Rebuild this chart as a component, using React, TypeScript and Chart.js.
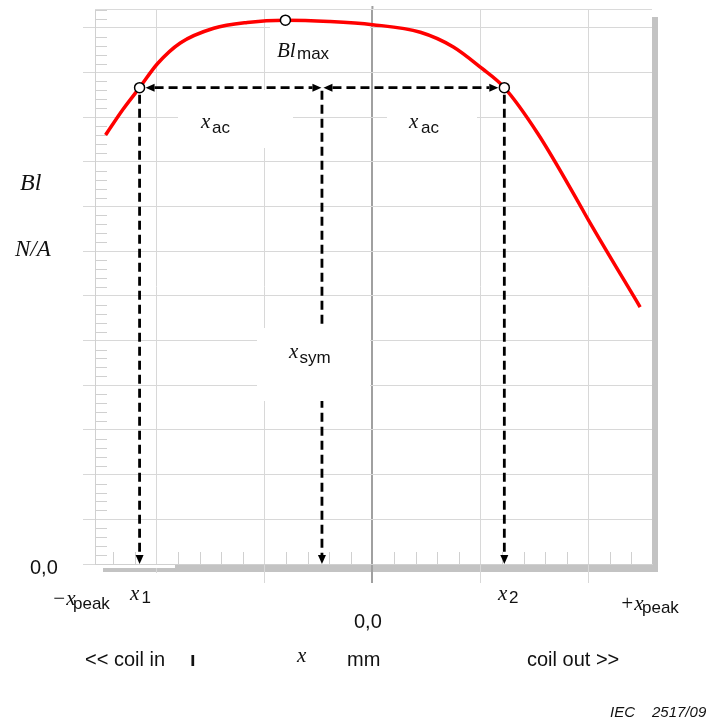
import React, { useEffect, useRef } from "react";
import { Chart, registerables } from "chart.js";

Chart.register(...registerables);

// ---- data (x in mm-units, y in Bl-units) ----
const curveX = [-2.472, -2.315, -2.157, -1.99, -1.78, -1.47, -1.16, -0.806, -0.4, 0, 0.444, 0.75, 1.009, 1.222, 1.53, 1.898, 2.0, 2.48];
const curveY = [9.6, 10.16, 10.66, 11.2, 11.66, 11.99, 12.12, 12.17, 12.14, 12.07, 11.9, 11.57, 11.1, 10.66, 9.64, 8.14, 7.7, 5.75];
// marker points: x1, Bl_max, x2
const markerX = [-2.157, -0.806, 1.222];
const markerY = [10.66, 12.17, 10.66];
// axis ranges
const xRange = [-2.57, 2.59];
const yRange = [0, 12.42];

const SERIF = '"Liberation Serif", "DejaVu Serif", serif';
const SANS = '"Liberation Sans", Arial, sans-serif';
const fI = (s: number) => `italic ${s}px ${SERIF}`;
const fS = (s: number) => `${s}px ${SANS}`;

const decor = {
  id: "decor",
  beforeDraw(chart: any) {
    const ctx = chart.ctx;
    const a = chart.chartArea;
    ctx.save();
    ctx.fillStyle = "#c3c3c3";
    ctx.fillRect(a.right, a.top + 8, 6, a.bottom - a.top);
    ctx.fillRect(a.left + 8, a.bottom + 1, a.right - a.left - 2, 7);
    ctx.restore();
  },
  beforeDatasetsDraw(chart: any) {
    const ctx = chart.ctx;
    const a = chart.chartArea;
    const xs = chart.scales.x;
    const ys = chart.scales.y;
    const px = (v: number) => xs.getPixelForValue(v);
    const py = (v: number) => ys.getPixelForValue(v);
    ctx.save();
    // top border
    ctx.strokeStyle = "#dadada";
    ctx.lineWidth = 1;
    ctx.beginPath();
    ctx.moveTo(a.left, Math.round(a.top) + 0.5);
    ctx.lineTo(a.right, Math.round(a.top) + 0.5);
    ctx.stroke();
    // zero line extends slightly above the plot
    ctx.strokeStyle = "#a0a0a0";
    ctx.lineWidth = 2;
    ctx.beginPath();
    ctx.moveTo(px(0), a.top - 3);
    ctx.lineTo(px(0), a.top);
    ctx.stroke();
    // minor ticks
    ctx.strokeStyle = "#d0d0d0";
    ctx.lineWidth = 1;
    ctx.beginPath();
    for (let i = Math.ceil(yRange[0] * 5); i <= Math.floor(yRange[1] * 5); i++) {
      if (i % 5 === 0) continue;
      const y = Math.round(py(i / 5)) + 0.5;
      ctx.moveTo(a.left, y);
      ctx.lineTo(a.left + 12, y);
    }
    for (let i = Math.ceil(xRange[0] * 5); i <= Math.floor(xRange[1] * 5); i++) {
      if (i % 5 === 0) continue;
      const x = Math.round(px(i / 5)) + 0.5;
      ctx.moveTo(x, a.bottom);
      ctx.lineTo(x, a.bottom - 12);
    }
    ctx.stroke();

    // dashed construction lines
    const x1p = px(markerX[0]);
    const x2p = px(markerX[2]);
    const xsp = px((markerX[0] + markerX[2]) / 2);
    const yh = py(markerY[0]);
    const yb = py(0);
    const AL = 9, HW = 4;
    const line = (ax: number, ay: number, bx: number, by: number) => {
      ctx.beginPath();
      ctx.moveTo(ax, ay);
      ctx.lineTo(bx, by);
      ctx.stroke();
    };
    const arrow = (tx: number, ty: number, dx: number, dy: number) => {
      const bx = tx - AL * dx, by = ty - AL * dy;
      ctx.beginPath();
      ctx.moveTo(tx, ty);
      ctx.lineTo(bx - dy * HW, by + dx * HW);
      ctx.lineTo(bx + dy * HW, by - dx * HW);
      ctx.closePath();
      ctx.fill();
    };
    ctx.strokeStyle = "#000";
    ctx.fillStyle = "#000";
    ctx.lineWidth = 2.8;
    ctx.setLineDash([9, 5]);
    line(x1p + 6 + AL, yh, xsp - 0.5 - AL, yh);
    line(xsp + 1.5 + AL, yh, x2p - 6 - AL, yh);
    line(x1p, yh + 7, x1p, yb - AL);
    line(x2p, yh + 7, x2p, yb - AL);
    line(xsp, yh + 3, xsp, yb - AL);
    ctx.setLineDash([]);
    arrow(x1p + 6, yh, -1, 0);
    arrow(xsp - 0.5, yh, 1, 0);
    arrow(xsp + 1.5, yh, -1, 0);
    arrow(x2p - 6, yh, 1, 0);
    arrow(x1p, yb, 0, 1);
    arrow(x2p, yb, 0, 1);
    arrow(xsp, yb, 0, 1);

    // white label backgrounds
    ctx.fillStyle = "#fff";
    ctx.fillRect(270, 26, 100, 45);
    ctx.fillRect(178, 90, 115, 58);
    ctx.fillRect(387, 90, 90, 62);
    ctx.fillRect(257, 328, 113, 73);
    ctx.fillRect(103, 565, 72, 3);
    ctx.fillRect(118, 573, 58, 40);
    ctx.restore();
  },
  afterDatasetsDraw(chart: any) {
    const ctx = chart.ctx;
    ctx.save();
    ctx.fillStyle = "#111";
    ctx.textBaseline = "alphabetic";
    ctx.textAlign = "left";
    const t = (s: string, font: string, x: number, y: number) => {
      ctx.font = font;
      ctx.fillText(s, x, y);
    };
    // Bl_max
    t("Bl", fI(21), 277, 57);
    t("max", fS(17), 297, 59);
    // x_ac left / right
    t("x", fI(21), 201, 128);
    t("ac", fS(17), 212, 133);
    t("x", fI(21), 409, 128);
    t("ac", fS(17), 421, 133);
    // x_sym
    t("x", fI(21), 289, 358);
    t("sym", fS(17), 299.5, 363);
    // y-axis title
    t("Bl", fI(24), 20, 190);
    t("N/A", fI(23), 15, 256);
    t("0,0", fS(20), 30, 574);
    // x-axis labels
    t("\u2212x", fI(21), 52, 605);
    t("peak", fS(17), 73, 609);
    t("x", fI(21), 130, 600);
    t("1", fS(17), 141.5, 603);
    t("0,0", fS(20), 354, 628);
    t("x", fI(21), 498, 600);
    t("2", fS(17), 509, 603);
    t("+x", fI(21), 620, 610);
    t("peak", fS(17), 642, 613);
    t("<< coil in", fS(20), 85, 666);
    t("\u0131", `bold 20px ${SANS}`, 190, 666);
    t("x", fI(21), 297, 662);
    t("mm", fS(20), 347, 666);
    t("coil out >>", fS(20), 527, 666);
    ctx.font = `italic 15px ${SANS}`;
    ctx.fillText("IEC", 610, 717);
    ctx.fillText("2517/09", 652, 717);
    ctx.restore();
  },
};

export default function App() {
  const ref = useRef<HTMLCanvasElement>(null);
  useEffect(() => {
    const canvas = ref.current!;
    const gridX = "#d8d8d8";
    const chart = new Chart(canvas, {
      type: "line",
      data: {
        datasets: [
          {
            data: curveX.map((x, i) => ({ x, y: curveY[i] })),
            borderColor: "#ff0000",
            borderWidth: 3.5,
            pointRadius: 0,
            cubicInterpolationMode: "monotone",
            fill: false,
            clip: false as any,
            order: 2,
          },
          {
            data: markerX.map((x, i) => ({ x, y: markerY[i] })),
            showLine: false,
            pointRadius: 5,
            pointBackgroundColor: "#ffffff",
            pointBorderColor: "#000000",
            pointBorderWidth: 1.5,
            clip: false as any,
            order: 1,
          },
        ],
      },
      options: {
        responsive: false,
        animation: false,
        devicePixelRatio: 1,
        layout: { padding: { left: 83, right: 56, top: 9, bottom: 137 } },
        plugins: { legend: { display: false }, tooltip: { enabled: false } },
        scales: {
          x: {
            type: "linear",
            min: xRange[0],
            max: xRange[1],
            ticks: { display: false, stepSize: 1, includeBounds: false },
            grid: {
              drawTicks: true,
              tickLength: 19,
              color: (c: any) => (c.tick && c.tick.value === 0 ? "#a0a0a0" : gridX),
              lineWidth: (c: any) => (c.tick && c.tick.value === 0 ? 2 : 1),
            },
            border: { display: true, color: "#d0d0d0" },
          },
          y: {
            type: "linear",
            min: yRange[0],
            max: yRange[1],
            ticks: { display: false, stepSize: 1, includeBounds: false },
            grid: { drawTicks: true, tickLength: 12, color: gridX, lineWidth: 1 },
            border: { display: true, color: "#d0d0d0" },
          },
        },
      },
      plugins: [decor],
    } as any);
    return () => chart.destroy();
  }, []);
  return (
    <div style={{ position: "absolute", left: 0, top: 0, width: 708, height: 720, background: "#fff" }}>
      <canvas ref={ref} width={708} height={720} style={{ width: 708, height: 720, display: "block" }} />
    </div>
  );
}
